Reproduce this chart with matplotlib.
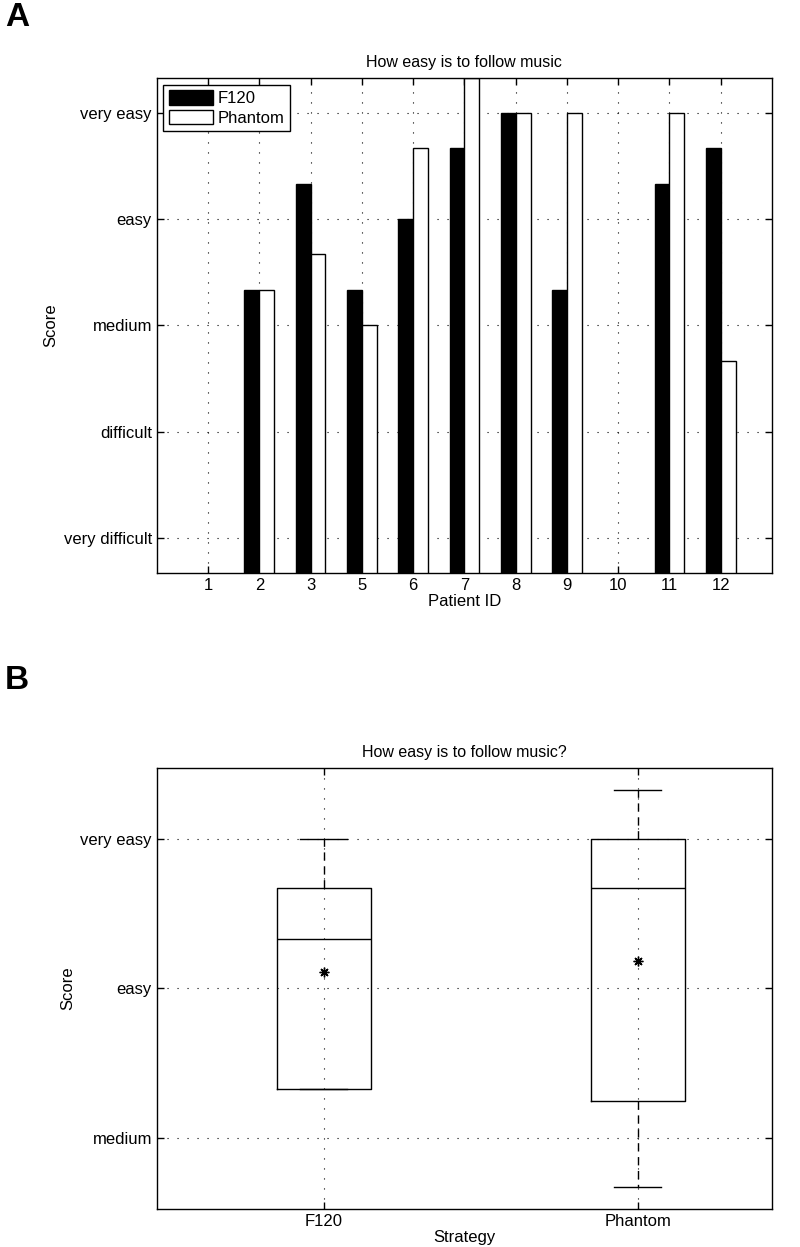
"""
Questionnaire scores: how easy is it to follow music
Panel A - scores per patient, Panel B - boxplot per strategy
"""

import numpy as np
from matplotlib import pyplot as plt

plt.rcParams["font.family"] = ["Liberation Sans", "DejaVu Sans"]
plt.rcParams["font.size"] = 12

PATIENTS = ["1", "2", "3", "5", "6", "7", "8", "9", "10", "11", "12"]
F120 = [0, 3.33, 4.33, 3.33, 4.0, 4.67, 5.0, 3.33, 0, 4.33, 4.67]
PHANTOM = [0, 3.33, 3.67, 3.0, 4.67, 5.33, 5.0, 5.0, 0, 5.0, 2.67]

SCORE_TICKS = [1, 2, 3, 4, 5]
SCORE_LABELS = ["very difficult", "difficult", "medium", "easy", "very easy"]
STRATEGIES = ["F120", "Phantom"]


def style_axes(a_x):
    """MATLAB look: ticks inside on all sides, dotted grid"""
    a_x.tick_params(direction="in", top=True, right=True, length=5, width=1)
    a_x.grid(color="black", linestyle=(0, (1, 8)), linewidth=0.8)
    a_x.set_axisbelow(True)
    for spine in a_x.spines.values():
        spine.set_linewidth(1)


def box_stats(values, label):
    """Quartiles the way MATLAB prctile does it (hazen)"""
    data = np.array([v for v in values if v > 0])
    q1, med, q3 = np.percentile(data, [25, 50, 75], method="hazen")
    return {
        "label": label,
        "q1": q1,
        "med": med,
        "q3": q3,
        "whislo": data.min(),
        "whishi": data.max(),
        "mean": data.mean(),
        "fliers": [],
    }


def main():
    fig = plt.figure(figsize=(8, 12.47), dpi=100)

    # Panel A
    a_x = fig.add_axes([0.196, 0.5405, 0.769, 0.397])
    x_pos = np.arange(1, len(PATIENTS) + 1)
    width = 0.29
    a_x.bar(x_pos - width / 2, F120, width, color="black",
            edgecolor="black", linewidth=1, label="F120")
    a_x.bar(x_pos + width / 2, PHANTOM, width, color="white",
            edgecolor="black", linewidth=1, label="Phantom")
    a_x.set_xlim(0, 12)
    a_x.set_ylim(0.67, 5.33)
    a_x.set_xticks(x_pos)
    a_x.set_xticklabels(PATIENTS)
    a_x.set_yticks(SCORE_TICKS)
    a_x.set_yticklabels(SCORE_LABELS)
    a_x.set_xlabel("Patient ID", labelpad=1)
    a_x.set_ylabel("Score")
    a_x.set_title("How easy is to follow music", pad=8, fontsize=11.5)
    style_axes(a_x)
    leg = a_x.legend(loc="upper left", fancybox=False, edgecolor="black",
                     framealpha=1, borderaxespad=0.4,
                     borderpad=0.35, labelspacing=0.2, handlelength=2.6,
                     handleheight=0.95, handletextpad=0.3)
    leg.get_frame().set_linewidth(1)

    # Panel B
    b_x = fig.add_axes([0.196, 0.0305, 0.769, 0.3536])
    stats = [box_stats(F120, STRATEGIES[0]), box_stats(PHANTOM, STRATEGIES[1])]
    b_x.bxp(stats, positions=[1, 2], widths=0.3, showmeans=True,
            showfliers=False,
            boxprops=dict(color="black", linewidth=1),
            medianprops=dict(color="black", linewidth=1),
            whiskerprops=dict(color="black", linewidth=1, linestyle=(0, (6, 4))),
            capprops=dict(color="black", linewidth=1),
            capwidths=0.15,
            meanprops=dict(marker=(8, 2, 0), markerfacecolor="black",
                           markeredgecolor="black", markersize=7,
                           markeredgewidth=1))
    b_x.set_xlim(0.468, 2.427)
    b_x.set_ylim(2.525, 5.475)
    b_x.set_yticks(SCORE_TICKS[2:])
    b_x.set_yticklabels(SCORE_LABELS[2:])
    b_x.set_xlabel("Strategy", labelpad=1)
    b_x.set_ylabel("Score")
    b_x.set_title("How easy is to follow music?", pad=8, fontsize=11.5)
    style_axes(b_x)

    fig.text(0.006, 0.998, "A", fontsize=24, fontweight="bold", va="top")
    fig.text(0.006, 0.467, "B", fontsize=24, fontweight="bold", va="top")

    fig.savefig("out.png")


if __name__ == "__main__":
    main()
